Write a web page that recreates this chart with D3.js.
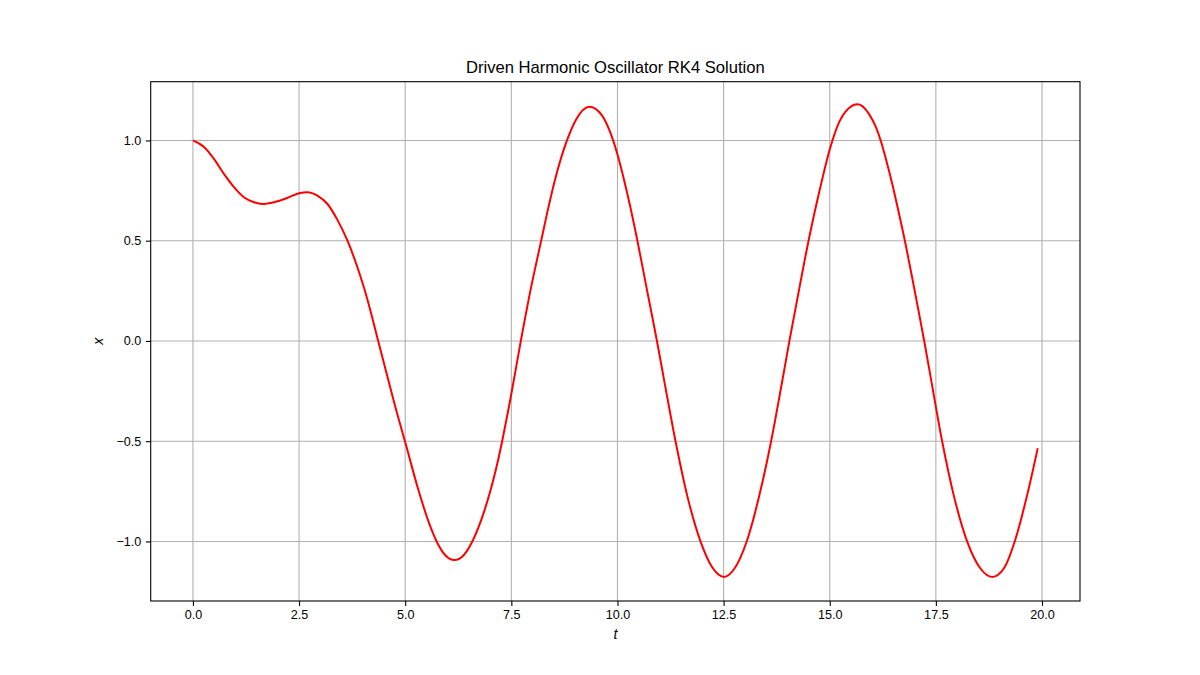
<!DOCTYPE html>
<html>
<head>
<meta charset="utf-8">
<script src="https://cdn.jsdelivr.net/npm/d3@7"></script>
<style>
    body { margin: 0; background: #fff; }
    text { font-family: "Liberation Sans", Arial, sans-serif; }
</style>
</head>
<body>
<div id="container"><svg></svg></div>
<script>
let width = 1200;
let height = 675;

// values
let tValues = [0, 0.26, 0.495, 0.73, 0.966, 1.20, 1.44, 1.63, 1.91, 2.22, 2.50, 2.70, 2.93, 3.17, 3.40, 3.64,
    3.87, 4.03, 4.42, 4.81, 5.03, 5.29, 5.60, 5.74, 5.95, 6.16, 6.37, 6.58, 6.86, 7.17, 7.48, 7.72, 7.96,
    8.18, 8.33, 8.53, 8.81, 9.04, 9.34, 9.63, 9.83, 10.0, 10.22, 10.46, 10.69, 10.93, 11.12, 11.37, 11.64,
    11.96, 12.22, 12.51, 12.74, 13.06, 13.37, 13.61, 13.89, 14.05, 14.29, 14.52, 14.76, 15.0, 15.23, 15.42,
    15.66, 15.93, 16.09, 16.20, 16.32, 16.48, 16.64, 16.77, 16.91, 17.07, 17.23, 17.41, 17.65, 17.92, 18.24,
    18.55, 18.83, 19.10, 19.38, 19.65, 19.90];
let xValues = [1.0, 0.967, 0.908, 0.833, 0.767, 0.717, 0.692, 0.683, 0.692, 0.713, 0.737, 0.742, 0.725, 0.683, 0.605, 0.50,
    0.37, 0.265, -0.046, -0.362, -0.528, -0.728, -0.93, -1.0, -1.07, -1.093, -1.07, -1.0, -0.85, -0.611, -0.287, -0.004, 0.262,
    0.478, 0.625, 0.805, 1.0, 1.11, 1.168, 1.126, 1.04, 0.93, 0.745, 0.51, 0.26, 0.0, -0.22, -0.503, -0.769,
    -1.002, -1.125, -1.177, -1.14, -0.99, -0.745, -0.51, -0.19, 0.0, 0.27, 0.52, 0.75, 0.955, 1.095, 1.155,
    1.18, 1.13, 1.065, 1.0, 0.91, 0.777, 0.627, 0.5, 0.35, 0.175, -0.005, -0.22, -0.503, -0.769, -1.002,
    -1.135, -1.177, -1.135, -0.985, -0.769, -0.535];
let xTicks = [0, 2.5, 5, 7.5, 10, 12.5, 15, 17.5, 20];
let yTicks = [-1, -0.5, 0, 0.5, 1];

let margin = {left: 150.7, right: 1080, top: 81.7, bottom: 601};

function draw_graph() {
    let svg = d3.select('#container')
        .select('svg')
        .attr('width', width)
        .attr('height', height);

    let xScale = d3.scaleLinear().domain([-0.995, 20.895]).range([margin.left, margin.right]);
    let yScale = d3.scaleLinear().domain([-1.297, 1.293]).range([margin.bottom, margin.top]);

    let fmt = v => d3.format('.1f')(v).replace('-', '\u2212');

    // grid
    let grid = svg.append('g')
        .attr('stroke', '#b0b0b0')
        .attr('stroke-width', 1.1);
    grid.selectAll('line.gx')
        .data(xTicks)
        .join('line')
        .attr('class', 'gx')
        .attr('x1', d => xScale(d)).attr('x2', d => xScale(d))
        .attr('y1', margin.top).attr('y2', margin.bottom);
    grid.selectAll('line.gy')
        .data(yTicks)
        .join('line')
        .attr('class', 'gy')
        .attr('y1', d => yScale(d)).attr('y2', d => yScale(d))
        .attr('x1', margin.left).attr('x2', margin.right);

    // curve (monotone in t so uneven spacing stays smooth)
    let points = tValues.map((t, i) => [t, xValues[i]]);
    let line = d3.line()
        .x(d => xScale(d[0]))
        .y(d => yScale(d[1]))
        .curve(d3.curveMonotoneX);
    svg.append('path')
        .datum(points)
        .attr('fill', 'none')
        .attr('stroke', '#ff0000')
        .attr('stroke-width', 2)
        .attr('d', line);

    // axes
    let xAxis = d3.axisBottom(xScale).tickValues(xTicks).tickSize(4.9).tickPadding(4.5).tickFormat(fmt);
    let yAxis = d3.axisLeft(yScale).tickValues(yTicks).tickSize(4.9).tickPadding(4.5).tickFormat(fmt);

    let gx = svg.append('g')
        .attr('transform', `translate(0,${margin.bottom})`)
        .call(xAxis);
    let gy = svg.append('g')
        .attr('transform', `translate(${margin.left},0)`)
        .call(yAxis);
    [gx, gy].forEach(g => {
        g.select('.domain').remove();
        g.selectAll('line').attr('stroke', '#000').attr('stroke-width', 1.1);
        g.selectAll('text')
            .attr('fill', '#000')
            .attr('font-size', 12.6)
            .style('font-family', '"Liberation Sans", Arial, sans-serif');
    });

    // frame
    svg.append('rect')
        .attr('x', margin.left)
        .attr('y', margin.top)
        .attr('width', margin.right - margin.left)
        .attr('height', margin.bottom - margin.top)
        .attr('fill', 'none')
        .attr('stroke', '#000')
        .attr('stroke-width', 1.1);

    // title and labels
    svg.append('text')
        .attr('x', (margin.left + margin.right) / 2)
        .attr('y', 73)
        .attr('text-anchor', 'middle')
        .attr('font-size', 16.6)
        .attr('fill', '#000')
        .text('Driven Harmonic Oscillator RK4 Solution');

    svg.append('text')
        .attr('x', (margin.left + margin.right) / 2)
        .attr('y', 639)
        .attr('text-anchor', 'middle')
        .attr('font-size', 14)
        .attr('font-style', 'italic')
        .attr('fill', '#000')
        .text('t');

    svg.append('text')
        .attr('transform', `translate(103,${(margin.top + margin.bottom) / 2}) rotate(-90)`)
        .attr('text-anchor', 'middle')
        .attr('font-size', 14)
        .attr('font-style', 'italic')
        .attr('fill', '#000')
        .text('x');
}

draw_graph();
</script>
</body>
</html>
